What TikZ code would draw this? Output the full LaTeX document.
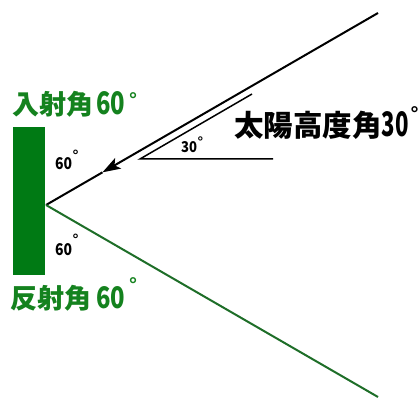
\documentclass[tikz,border=0pt]{standalone}
\usepackage{fontspec}
\usepackage{graphicx}
\usetikzlibrary{arrows.meta,calc}
\newfontfamily\jp{Noto Sans CJK JP}
\newfontfamily\degfont{Liberation Sans}
\definecolor{mirror}{RGB}{0,122,20}
\definecolor{txtgreen}{RGB}{20,130,30}
\definecolor{refl}{RGB}{30,110,40}
% degree sign: #1 size, #2 height of its top above the baseline
\newcommand\dg[2]{\raisebox{\dimexpr#2-\height\relax}{\degfont\fontsize{#1}{#1}\selectfont °}}
% digits of given width #1 and height #2
\newcommand\dgt[3]{\resizebox{#1}{#2}{#3}}
\begin{document}
\begin{tikzpicture}[x=1pt,y=-1pt,
  lbl/.style={font=\jp\bfseries, inner sep=0pt, anchor=base west},
  ray/.style={line width=2pt},
  thin/.style={line width=1.5pt}]
\useasboundingbox (0,0) rectangle (420,398);
\fill[white] (0,0) rectangle (420,398);
% mirror
\node[fill=mirror, minimum width=32pt, minimum height=148pt, inner sep=0pt, anchor=north west] (mir) at (13,127) {};
% points
\coordinate (R) at (46,205);
\coordinate (S) at (378,13);
\coordinate (E) at (378,397);
\coordinate (M) at ($(S)!0.83!(R)$);
% rays
\draw[ray, -{Stealth[length=18pt,width=12pt,inset=4pt]}] (S) -- (M);
\draw[ray] (M) -- (R);
\draw[ray, refl] (R) -- (E);
% small angle
\coordinate (A) at (140,159);
\coordinate (B) at (252,94);
\coordinate (C) at (273,159);
\draw[thin] (B) -- (A) -- (C);
% labels
\node[lbl, txtgreen] (inc) at (12,115) {\fontsize{27}{27}\selectfont 入射角\kern3pt\dgt{29pt}{23pt}{60}\kern4pt\dg{20}{22pt}};
\node[lbl, txtgreen] (ref) at (10,308) {\fontsize{27}{27}\selectfont 反射角\kern5pt\dgt{29pt}{22pt}{60}\kern4pt\dg{20}{30pt}};
\node[lbl] (sun) at (234,137) {\fontsize{29.5}{29.5}\selectfont 太陽高度角\dgt{27pt}{25pt}{30}\kern2pt\dg{20}{30pt}};
\node[lbl] (a30) at (181,153) {\dgt{16pt}{11pt}{30}\kern0.5pt\dg{14}{16pt}};
\node[lbl] (i60) at (55,170) {\dgt{17pt}{12pt}{60}\kern0.5pt\dg{15}{20pt}};
\node[lbl] (r60) at (55,255) {\dgt{17pt}{12pt}{60}\kern0.5pt\dg{15}{21pt}};
\end{tikzpicture}
\end{document}
